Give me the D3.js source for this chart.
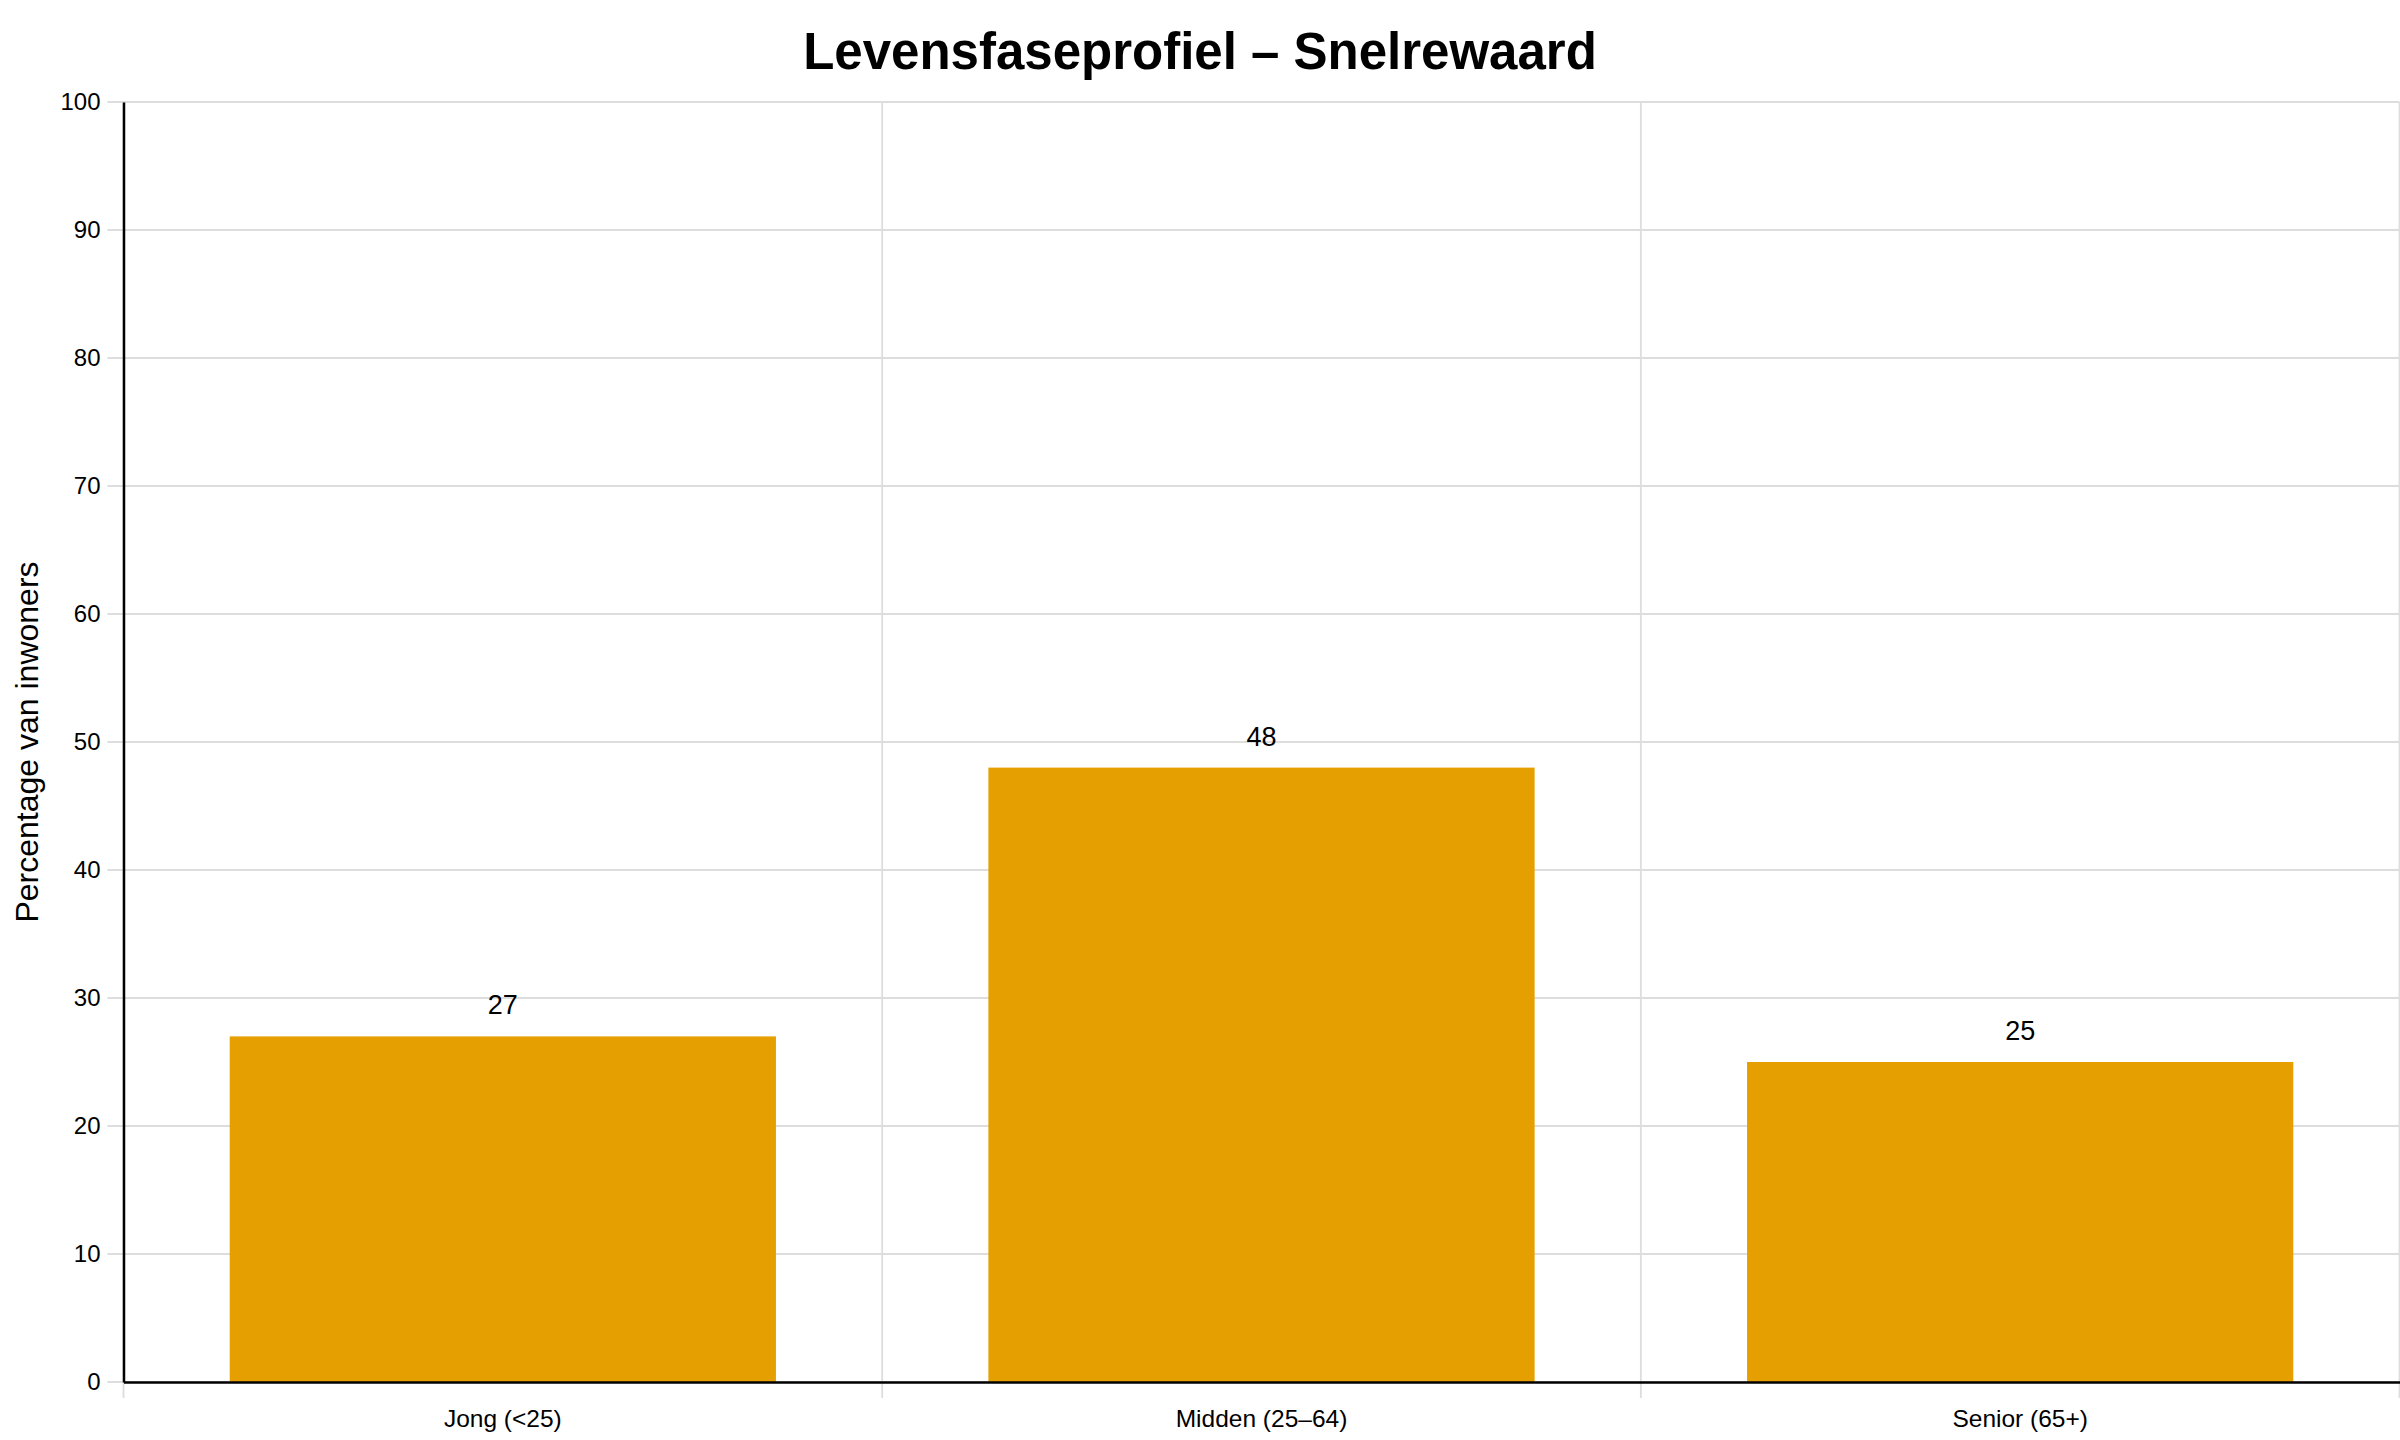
<!DOCTYPE html>
<html>
<head>
<meta charset="utf-8">
<script src="https://cdn.jsdelivr.net/npm/d3@7"></script>
<style>
  html, body { margin: 0; padding: 0; background: #fff; }
  svg { display: block; font-family: "Liberation Sans", Arial, sans-serif; }
</style>
</head>
<body>
<svg id="chart" width="2400" height="1440"></svg>
<script>
// ── Data ─────────────────────────────────────────────
const categories = ["Jong (<25)", "Midden (25–64)", "Senior (65+)"];
const values     = [27, 48, 25];
const yTicks     = [0, 10, 20, 30, 40, 50, 60, 70, 80, 90, 100];

const TITLE  = "Levensfaseprofiel – Snelrewaard";
const YLABEL = "Percentage van inwoners";
const BAR_COLOR  = "#E69F00";
const GRID_COLOR = "#dddddd";

// ── Layout ───────────────────────────────────────────
const W = 2400, H = 1440;
const M = { top: 102, right: 0.5, bottom: 58, left: 123.5 };
const plotL = M.left, plotR = W - M.right;
const plotT = M.top,  plotB = H - M.bottom;

const svg = d3.select("#chart");

const x = d3.scaleBand()
  .domain(categories)
  .range([plotL, plotR])
  .paddingInner(0.28)
  .paddingOuter(0.14);

const y = d3.scaleLinear().domain([0, 100]).range([plotB, plotT]);

// ── Gridlines ────────────────────────────────────────
const grid = svg.append("g").attr("class", "grid");

grid.selectAll(".hgrid")
  .data(yTicks)
  .join("line")
  .attr("x1", plotL - 16).attr("x2", plotR)
  .attr("y1", d => y(d)).attr("y2", d => y(d))
  .attr("stroke", GRID_COLOR).attr("stroke-width", 1.8);

// band boundaries (category separators)
const bounds = d3.range(categories.length + 1)
  .map(i => plotL + i * (plotR - plotL) / categories.length);

grid.selectAll(".vgrid")
  .data(bounds)
  .join("line")
  .attr("x1", d => d).attr("x2", d => d)
  .attr("y1", plotT).attr("y2", plotB + 16)
  .attr("stroke", GRID_COLOR).attr("stroke-width", 1.8);

// ── Bars ─────────────────────────────────────────────
const rows = categories.map((c, i) => ({ cat: c, val: values[i] }));

svg.append("g").selectAll("rect")
  .data(rows)
  .join("rect")
  .attr("x", d => x(d.cat))
  .attr("width", x.bandwidth())
  .attr("y", d => y(d.val))
  .attr("height", d => y(0) - y(d.val))
  .attr("fill", BAR_COLOR);

// value labels
svg.append("g").selectAll("text")
  .data(rows)
  .join("text")
  .attr("x", d => x(d.cat) + x.bandwidth() / 2)
  .attr("y", d => y(d.val) - 22)
  .attr("text-anchor", "middle")
  .attr("font-size", 27)
  .attr("fill", "#000")
  .text(d => d.val);

// ── Axes ─────────────────────────────────────────────
const yAxisG = svg.append("g")
  .attr("transform", `translate(${plotL},0)`)
  .call(d3.axisLeft(y).tickValues(yTicks).tickSize(0).tickSizeOuter(0).tickPadding(23));
yAxisG.selectAll("text").attr("font-size", 24).attr("fill", "#000")
  .attr("font-family", "'Liberation Sans', Arial, sans-serif");
yAxisG.select(".domain").attr("stroke", "#000").attr("stroke-width", 2.5);

const xAxisG = svg.append("g")
  .attr("transform", `translate(0,${plotB})`)
  .call(d3.axisBottom(x).tickSize(0).tickSizeOuter(0).tickPadding(28));
xAxisG.selectAll("text").attr("font-size", 24.5).attr("fill", "#000")
  .attr("font-family", "'Liberation Sans', Arial, sans-serif");
xAxisG.select(".domain").attr("stroke", "#000").attr("stroke-width", 2.5);

// ── Titles ───────────────────────────────────────────
svg.append("text")
  .attr("x", W / 2).attr("y", 69)
  .attr("text-anchor", "middle")
  .attr("font-size", 51).attr("font-weight", "bold")
  .text(TITLE);

svg.append("text")
  .attr("transform", `translate(38,742) rotate(-90)`)
  .attr("text-anchor", "middle")
  .attr("font-size", 32)
  .text(YLABEL);
</script>
</body>
</html>
